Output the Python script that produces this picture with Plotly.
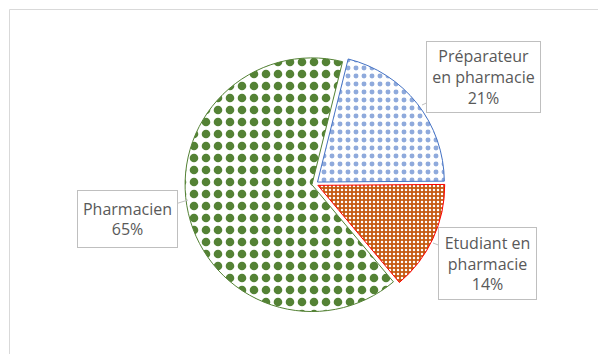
import plotly.graph_objects as go

# Data
categories = ["Préparateur en pharmacie", "Etudiant en pharmacie", "Pharmacien"]
values = [21, 14, 65]
wrapped = ["Préparateur<br>en pharmacie", "Etudiant en<br>pharmacie", "Pharmacien"]

W, H = 606, 354
OFF = 8  # page body margin
total = sum(values)
pcts = [round(v * 100 / total) for v in values]

fig = go.Figure()
fig.add_trace(go.Pie(
    labels=categories,
    values=values,
    sort=False,
    direction="clockwise",
    rotation=14,
    pull=[0.025, 0.025, 0.025],
    textinfo="none",
    hoverinfo="label+percent",
    showlegend=False,
    domain=dict(x=[(185 - OFF) / W, (445 - OFF) / W],
                y=[(H - 314 + OFF) / H, (H - 54 + OFF) / H]),
    marker=dict(
        colors=["#8FAADC", "#C55A11", "#548235"],
        line=dict(color=["#4472C4", "#FF0000", "#548235"], width=1),
        pattern=dict(
            shape=[".", ".", "."],
            fillmode="replace",
            bgcolor=["#FFFFFF", "#C55A11", "#FFFFFF"],
            fgcolor=["#8FAADC", "#FFFFFF", "#548235"],
            size=[8, 4, 12],
            solidity=[0.3, 0.3, 0.4],
        ),
    ),
))

# label boxes: (tip_x, tip_y, box_cx, box_cy, width, height) in screen pixels
boxes = [
    (422, 105, 483.5, 77, 113, 70),
    (433, 243, 487.5, 263.5, 97, 71),
    (188, 200, 127.5, 219, 99, 56),
]
annotations = []
for (tx, ty, bx, by, bw, bh), txt, p in zip(boxes, wrapped, pcts):
    annotations.append(dict(
        x=(tx - OFF) / W, y=1 - (ty - OFF) / H, xref="paper", yref="paper",
        ax=bx - tx, ay=by - ty, axref="pixel", ayref="pixel",
        text=f"{txt}<br>{p}%",
        showarrow=True, arrowhead=0, arrowwidth=1, arrowcolor="#BFBFBF",
        standoff=0,
        bgcolor="#FFFFFF", bordercolor="#BFBFBF", borderwidth=1, borderpad=0,
        width=bw, height=bh,
        font=dict(family="Open Sans", size=16, color="#595959"),
        align="center",
    ))

fig.update_layout(
    width=W, height=H,
    margin=dict(l=0, r=0, t=0, b=0),
    paper_bgcolor="#FFFFFF",
    plot_bgcolor="#FFFFFF",
    annotations=annotations,
    shapes=[dict(type="rect", xref="paper", yref="paper",
                 x0=1.5 / W, x1=(W - 1.5) / W, y0=1.5 / H, y1=(H - 1.5) / H,
                 line=dict(color="#D9D9D9", width=1))],
)

fig.write_html("out.html", config={"displayModeBar": False})
